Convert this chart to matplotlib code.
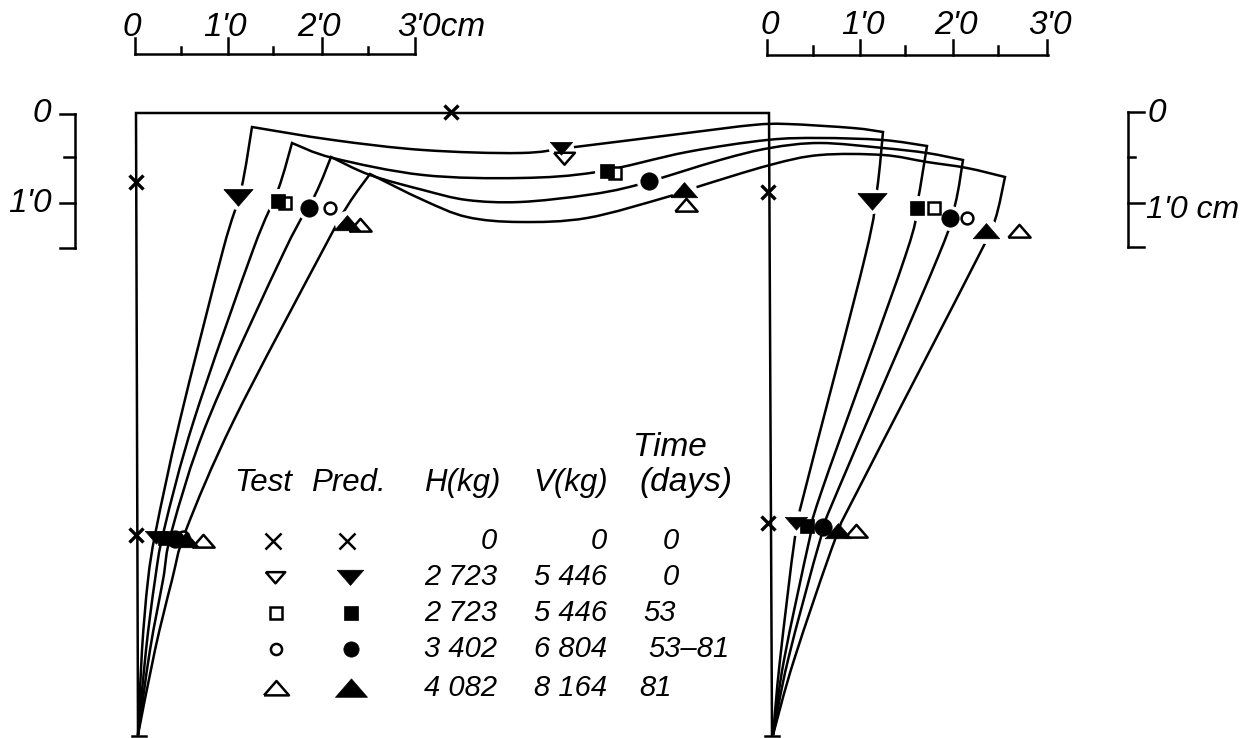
import matplotlib
matplotlib.use('Agg')
import matplotlib.pyplot as plt
from matplotlib.path import Path
from matplotlib.patches import PathPatch

plt.rcParams['font.family'] = ['Liberation Sans', 'DejaVu Sans']

# deflected shape (pixel positions of the scan)
frame_x = [138, 136, 769, 772]
frame_y = [735, 113, 113, 735]

curve1_x = [138, 142, 148, 156, 180, 223, 241, 252, 333, 423, 520, 575, 687, 753, 787, 853, 883, 877, 865, 805, 795, 780, 773]
curve1_y = [735, 650, 580, 530, 420, 250, 190, 127, 140, 150, 153, 147, 133, 125, 124, 128, 132, 190, 257, 490, 537, 660, 735]
curve2_x = [138, 146, 155, 164, 194, 253, 278, 292, 333, 423, 520, 597, 687, 767, 820, 883, 927, 917, 905, 822, 810, 784, 773]
curve2_y = [735, 650, 580, 530, 420, 250, 190, 143, 158, 175, 178, 172, 152, 140, 138, 140, 146, 205, 257, 490, 537, 660, 735]
curve3_x = [138, 150, 163, 172, 208, 285, 315, 331, 370, 423, 467, 520, 587, 637, 720, 770, 820, 883, 927, 963, 955, 938, 838, 821, 788, 773]
curve3_y = [735, 650, 580, 530, 420, 250, 195, 157, 175, 190, 200, 202, 195, 185, 160, 148, 143, 148, 153, 160, 205, 257, 490, 537, 660, 735]
curve4_x = [138, 155, 172, 186, 234, 323, 348, 370, 423, 467, 520, 587, 667, 697, 770, 820, 883, 927, 967, 1005, 995, 978, 858, 836, 794, 773]
curve4_y = [735, 650, 580, 530, 420, 250, 205, 174, 200, 217, 222, 218, 197, 187, 165, 155, 155, 162, 168, 177, 220, 257, 490, 537, 660, 735]
curves = [(curve1_x, curve1_y), (curve2_x, curve2_y), (curve3_x, curve3_y), (curve4_x, curve4_y)]
# knots where the curve turns a sharp corner
corners = [[7, 16], [7, 16], [7, 19], [7, 19]]

cross_x = [451, 136, 136, 768, 768]
cross_y = [112, 182, 535, 192, 523]

# big marks at the column tops, small ones along the lower row
down_pred_x = [238, 872]
down_pred_y = [197, 201]
down_small_x = [561, 156, 796]
down_small_y = [148, 537, 523]
down_test_x = [564]
down_test_y = [158]
square_pred_x = [278, 607, 917, 165, 807]
square_pred_y = [201, 171, 208, 538, 526]
square_test_x = [285, 615, 934]
square_test_y = [203, 173, 208]
circle_pred_x = [309, 649, 950, 175, 823]
circle_pred_y = [208, 181, 218, 539, 527]
circle_test_x = [330, 967, 183]
circle_test_y = [208, 218, 537]
up_pred_x = [347, 684, 986, 186, 838]
up_pred_y = [223, 190, 231, 540, 531]
up_test_x = [360, 686, 1019, 203, 856]
up_test_y = [225, 205, 231, 541, 531]

DOWN = [(-1, 0.55), (1, 0.55), (0, -0.6), (-1, 0.55)]
UP = [(-1, -0.55), (1, -0.55), (0, 0.6), (-1, -0.55)]

# scale bars
top_ticks_left = [135, 228, 322, 415]
top_minor_left = [181, 273, 368]
top_ticks_right = [767, 860, 953, 1047]
top_minor_right = [813, 905, 998]
side_ticks_left = [114, 203, 248]
side_minor = [157]
side_ticks_right = [112, 203, 247]
top_labels_left = ["0", "1'0", "2'0", "3'0cm"]
top_labels_right = ["0", "1'0", "2'0", "3'0"]

# key table
header_x = [263, 348, 462, 571]
header_txt = ['Test', 'Pred.', 'H(kg)', 'V(kg)']
row_y = [541, 577, 613, 649, 688]
h_col = ['0', '2 723', '2 723', '3 402', '4 082']
v_col = ['0', '5 446', '5 446', '6 804', '8 164']
days_col = ['0', '0', '53', '53–81', '81']
days_x = [671, 671, 660, 689, 655]


def smooth_path(xs, ys, breaks):
    # catmull-rom to bezier, restarted at the sharp corners
    verts = [(xs[0], ys[0])]
    codes = [Path.MOVETO]
    n = len(xs)
    for i in range(n - 1):
        p0 = (xs[i - 1], ys[i - 1]) if i > 0 and i not in breaks else (xs[i], ys[i])
        p3 = (xs[i + 2], ys[i + 2]) if i + 2 < n and i + 1 not in breaks else (xs[i + 1], ys[i + 1])
        c1 = (xs[i] + (xs[i + 1] - p0[0]) / 6, ys[i] + (ys[i + 1] - p0[1]) / 6)
        c2 = (xs[i + 1] - (p3[0] - xs[i]) / 6, ys[i + 1] - (p3[1] - ys[i]) / 6)
        verts += [c1, c2, (xs[i + 1], ys[i + 1])]
        codes += [Path.CURVE4] * 3
    return Path(verts, codes)


def label(x, y, txt, size=21, ha='center'):
    ax.text(x, y, txt, ha=ha, va='center', style='italic', fontsize=size)


def mark(x, y, marker, ms, fill='black', z=5):
    ax.plot(x, y, ls='none', marker=marker, ms=ms, mfc=fill, mec='black',
            mew=1.8 if fill == 'white' else 0.5, zorder=z)


fig = plt.figure(figsize=(12.52, 7.38), dpi=100)
ax = fig.add_axes([0, 0, 1, 1])
ax.set_xlim(0, 1252)
ax.set_ylim(738, 0)
ax.axis('off')

LW = 1.8
ax.plot(frame_x, frame_y, color='black', lw=LW, zorder=2, solid_joinstyle='miter')
for (xs, ys), brk in zip(curves, corners):
    ax.add_patch(PathPatch(smooth_path(xs, ys, brk), fc='none', ec='black', lw=LW, zorder=2))

# scale bars
ax.plot([135, 415], [54, 54], color='black', lw=LW)
ax.plot([767, 1048], [55, 55], color='black', lw=LW)
for t, lab in zip(top_ticks_left, top_labels_left):
    ax.plot([t, t], [54, 38], color='black', lw=LW)
    if 'cm' in lab:
        label(t - 18, 27, lab, 24, 'left')
    else:
        label(t - 3, 27, lab, 24)
for t in top_minor_left:
    ax.plot([t, t], [54, 47], color='black', lw=LW)
for t, lab in zip(top_ticks_right, top_labels_right):
    ax.plot([t, t], [55, 40], color='black', lw=LW)
    label(t + 3, 26, lab, 24)
for t in top_minor_right:
    ax.plot([t, t], [55, 46], color='black', lw=LW)
ax.plot([75, 75], [114, 248], color='black', lw=LW)
ax.plot([1128, 1128], [112, 247], color='black', lw=LW)
for t in side_ticks_left:
    ax.plot([60, 75], [t, t], color='black', lw=LW)
for t in side_minor:
    ax.plot([64, 75], [t, t], color='black', lw=LW)
    ax.plot([1128, 1135], [t, t], color='black', lw=LW)
for t in side_ticks_right:
    ax.plot([1128, 1144], [t, t], color='black', lw=LW)
label(42, 114, '0', 24)
label(30, 204, "1'0", 24)
label(1157, 114, '0', 24)
label(1146, 210, "1'0 cm", 23, 'left')

# gaps in the lines round the predicted marks
halo_x = down_pred_x + down_small_x[:1] + down_small_x[2:] + square_pred_x[:3] + circle_pred_x[:3] + up_pred_x[:3]
halo_y = down_pred_y + down_small_y[:1] + down_small_y[2:] + square_pred_y[:3] + circle_pred_y[:3] + up_pred_y[:3]
ax.plot(halo_x, halo_y, ls='none', marker='o', ms=18, mfc='white', mec='none', zorder=3)

mark(down_test_x, down_test_y, DOWN, 15, 'white', 4)
mark(square_test_x, square_test_y, 's', 8, 'white', 4)
mark(circle_test_x, circle_test_y, 'o', 8.5, 'white', 4)
mark(up_test_x, up_test_y, UP, 16, 'white', 4)
mark(down_pred_x, down_pred_y, DOWN, 21)
mark(down_small_x, down_small_y, DOWN, 16)
mark(square_pred_x, square_pred_y, 's', 10)
mark(circle_pred_x, circle_pred_y, 'o', 12.5)
mark(up_pred_x, up_pred_y, UP, 19)
ax.plot(cross_x, cross_y, ls='none', marker='x', ms=10, mec='black', mew=2.4, zorder=4)

# key
for x, txt in zip(header_x, header_txt):
    label(x, 483, txt, 22.5)
label(670, 448, 'Time', 24)
label(686, 482, '(days)', 24)
for y, h, v, d, dx in zip(row_y, h_col, v_col, days_col, days_x):
    label(497, y, h, 21, 'right')
    label(607, y, v, 21, 'right')
    label(dx, y, d, 21)
ax.plot([273, 347], [row_y[0], row_y[0]], ls='none', marker='x', ms=11, mec='black', mew=1.8)
mark([275], [row_y[1]], DOWN, 14, 'white')
mark([350], [row_y[1]], DOWN, 19)
mark([276], [row_y[2]], 's', 8, 'white')
mark([351], [row_y[2]], 's', 10)
mark([276], [row_y[3]], 'o', 8, 'white')
mark([351], [row_y[3]], 'o', 11)
mark([276], [row_y[4]], UP, 18, 'white')
mark([351], [row_y[4]], UP, 23)

# foot of the columns
ax.plot([132, 146], [736, 736], color='black', lw=LW)
ax.plot([765, 779], [736, 736], color='black', lw=LW)

fig.savefig('out.png', dpi=100)
plt.close()
